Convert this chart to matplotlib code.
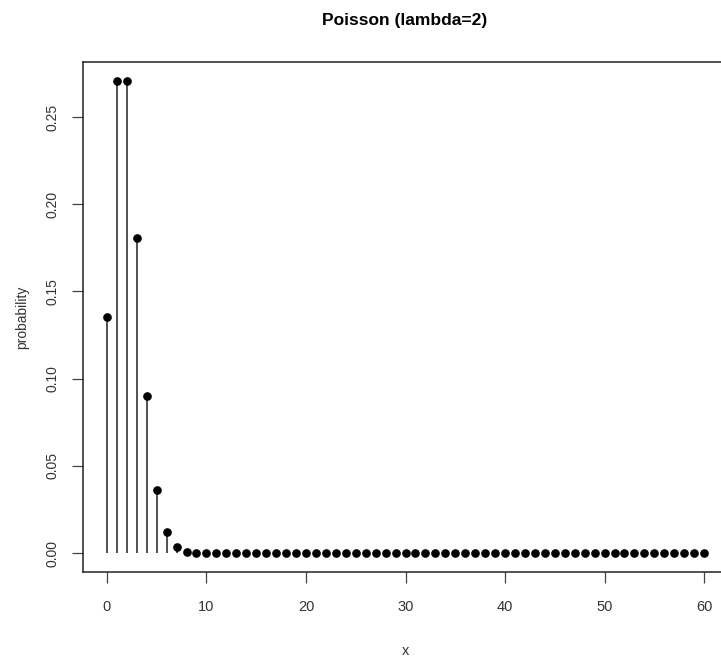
import matplotlib
matplotlib.use("Agg")
import matplotlib.pyplot as plt

plt.rcParams['font.family'] = ['Liberation Sans', 'DejaVu Sans']

# values (x = 0..60)
x_vals = list(range(0, 61))
prob = [0.1353, 0.2707, 0.2707, 0.1804, 0.0902, 0.0361, 0.0120, 0.0034, 0.0009, 0.0002,
        0.0, 0.0, 0.0, 0.0, 0.0, 0.0, 0.0, 0.0, 0.0, 0.0,
        0.0, 0.0, 0.0, 0.0, 0.0, 0.0, 0.0, 0.0, 0.0, 0.0,
        0.0, 0.0, 0.0, 0.0, 0.0, 0.0, 0.0, 0.0, 0.0, 0.0,
        0.0, 0.0, 0.0, 0.0, 0.0, 0.0, 0.0, 0.0, 0.0, 0.0,
        0.0, 0.0, 0.0, 0.0, 0.0, 0.0, 0.0, 0.0, 0.0, 0.0,
        0.0]
xticks = [0, 10, 20, 30, 40, 50, 60]
yticks = [0.00, 0.05, 0.10, 0.15, 0.20, 0.25]

fig = plt.figure(figsize=(7.21, 6.57), dpi=100)
ax = fig.add_axes([83/721, 85/657, 645/721, 510/657])

ax.vlines(x_vals, 0, prob, color='#222222', linewidth=1.1)
ax.plot(x_vals, prob, 'o', color='black', markersize=5.2)

ax.set_xlim(-2.4, 62.4)
ax.set_ylim(-0.0108, 0.2815)
ax.set_xticks(xticks)
ax.set_yticks(yticks)
ax.set_yticklabels(['%.2f' % v for v in yticks], rotation=90, va='center')
ax.tick_params(axis='both', length=8, width=0.9, color='#444444',
               labelcolor='#333333')
ax.tick_params(axis='x', labelsize=10.5, pad=12)
ax.tick_params(axis='y', labelsize=10, pad=9)

for s in ax.spines.values():
    s.set_linewidth(1.1)
    s.set_color('#222222')

ax.set_xlabel('x', fontsize=10.5, color='#333333', labelpad=22)
ax.set_ylabel('probability', fontsize=10, color='#333333', labelpad=12)
fig.text(405 / 721, 1 - 21/657, 'Poisson (lambda=2)',
         ha='center', va='center', fontsize=12.5, fontweight='bold')

fig.savefig('out.png', dpi=100)
